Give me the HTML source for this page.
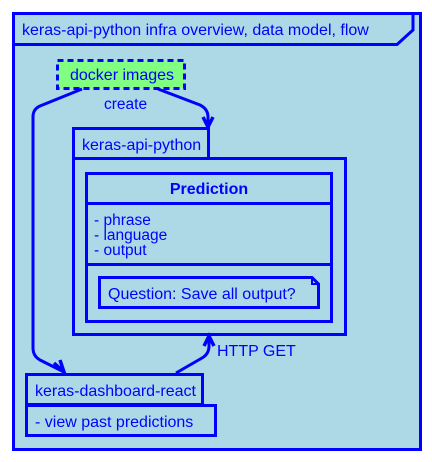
<!DOCTYPE html>
<html><head><style>html,body{margin:0;padding:0;background:#fff;}svg{display:block}</style></head>
<body>
<svg width="432" height="462" viewBox="0 0 432 462" xmlns="http://www.w3.org/2000/svg" font-family="Liberation Sans, sans-serif" fill="none" stroke="#0000ff" stroke-width="3">
<rect x="13.5" y="13.5" width="407" height="436" fill="#add8e6"/>
<path d="M13.5 44.5 H397 L413 30 V13.5" />
<text x="22" y="35" fill="#0000ff" stroke="none" font-size="16">keras-api-python infra overview, data model, flow</text>

<rect x="57.5" y="60.5" width="127" height="28" fill="#80ff80" stroke-dasharray="6,4"/>
<text x="70" y="80" fill="#0000ff" stroke="none" font-size="16">docker images</text>
<text x="104" y="109" fill="#0000ff" stroke="none" font-size="15.5">create</text>

<path d="M82 89 L40 106 Q33 109 33 117 V348 Q33 356 40 360 L64 372"/>
<path d="M54 363 L64 372 L60 360" stroke-width="3.5"/>
<path d="M158 89 L200 105 Q208 109 208 117 V127"/>
<path d="M203 117 L208 127 L213 117" stroke-width="3.5"/>

<rect x="73.5" y="128.5" width="135" height="30" fill="#add8e6"/>
<text x="82" y="150" fill="#0000ff" stroke="none" font-size="16">keras-api-python</text>
<rect x="73.5" y="158.5" width="272" height="176" fill="#add8e6"/>
<rect x="86.5" y="173.5" width="245" height="148" fill="#add8e6"/>
<line x1="86" y1="203.5" x2="332" y2="203.5"/>
<line x1="86" y1="264.5" x2="332" y2="264.5"/>
<text x="209" y="194" fill="#0000ff" stroke="none" font-size="16" font-weight="bold" text-anchor="middle">Prediction</text>
<text x="94" y="225" fill="#0000ff" stroke="none" font-size="15.5">- phrase</text>
<text x="94" y="240" fill="#0000ff" stroke="none" font-size="15.5">- language</text>
<text x="94" y="255" fill="#0000ff" stroke="none" font-size="15.5">- output</text>
<path d="M99.5 277.5 H312 L318.5 284 V307.5 H99.5 Z" fill="#add8e6"/>
<path d="M312 277.5 V284 H318.5" stroke-width="2"/>
<text x="108" y="299" fill="#0000ff" stroke="none" font-size="16">Question: Save all output?</text>

<path d="M176 373 L202 358 Q209 354 209 346 V337"/>
<path d="M204 346 L209 336 L214 346" stroke-width="3.5"/>
<text x="217" y="356" fill="#0000ff" stroke="none" font-size="16">HTTP GET</text>

<rect x="26.5" y="374.5" width="176" height="30" fill="#add8e6"/>
<text x="35" y="396" fill="#0000ff" stroke="none" font-size="16">keras-dashboard-react</text>
<rect x="26.5" y="405.5" width="189" height="30" fill="#add8e6"/>
<text x="35" y="427" fill="#0000ff" stroke="none" font-size="16">- view past predictions</text>
</svg>
</body></html>
